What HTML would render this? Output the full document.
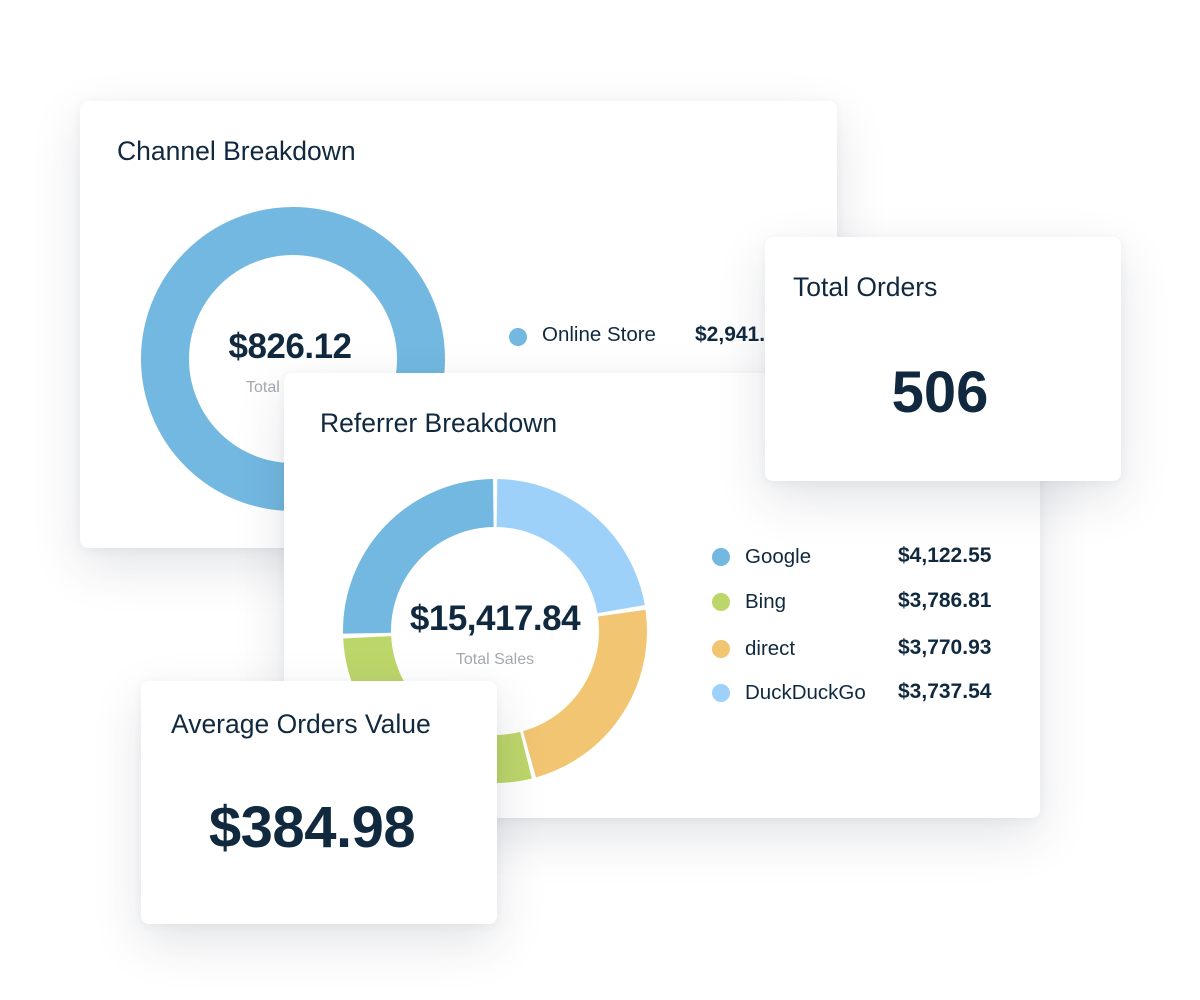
<!DOCTYPE html>
<html><head><meta charset="utf-8"><style>
body{margin:0;width:1200px;height:1000px;background:#fff;position:relative;overflow:hidden;font-family:"Liberation Sans",Arial,sans-serif;color:#11293f}
.card{position:absolute;background:#fff;border-radius:8px;box-shadow:0 18px 50px rgba(40,50,70,0.13),0 2px 10px rgba(40,50,70,0.05);overflow:hidden}
.t{position:absolute;white-space:nowrap}
.title{font-size:26.5px}
.b{font-weight:bold}
.g{color:#a4a9b0}
.dot{position:absolute;width:18px;height:18px;border-radius:50%}
.lg{font-size:20.5px}
.lv{font-size:21px;font-weight:bold}
</style></head><body>

<div class="card" style="left:80px;top:101px;width:757px;height:447px">
  <div class="t title" style="left:37px;top:35px">Channel Breakdown</div>
  <svg style="position:absolute;left:0;top:0" width="757" height="447">
    <circle cx="213" cy="258" r="128" fill="none" stroke="#72b8e0" stroke-width="48"/>
  </svg>
  <div class="t b" style="left:110px;top:226px;width:200px;text-align:center;font-size:35px;letter-spacing:-0.5px">$826.12</div>
  <div class="t g" style="left:166px;top:278px;font-size:16px">Total Sales</div>
  <div class="dot" style="left:429px;top:227px;background:#72b8e0"></div>
  <div class="t lg" style="left:462px;top:222px">Online Store</div>
  <div class="t lv" style="left:615px;top:222px">$2,941.83</div>
</div>

<div class="card" style="left:284px;top:373px;width:756px;height:445px">
  <div class="t title" style="left:36px;top:35px">Referrer Breakdown</div>
  <svg style="position:absolute;left:0;top:0" width="756" height="445">
    <g transform="rotate(-90 211 258)" fill="none" stroke-width="48">
      <circle cx="211" cy="258" r="128" stroke="#9dd1f9" stroke-dasharray="177 1000" stroke-dashoffset="-2"/>
      <circle cx="211" cy="258" r="128" stroke="#f2c572" stroke-dasharray="184 1000" stroke-dashoffset="-183"/>
      <circle cx="211" cy="258" r="128" stroke="#bdd66a" stroke-dasharray="226 1000" stroke-dashoffset="-370.6"/>
      <circle cx="211" cy="258" r="128" stroke="#72b8e0" stroke-dasharray="201.5 1000" stroke-dashoffset="-600.7"/>
    </g>
  </svg>
  <div class="t b" style="left:81px;top:226px;width:260px;text-align:center;font-size:35px;letter-spacing:-0.5px">$15,417.84</div>
  <div class="t g" style="left:81px;top:278px;width:260px;text-align:center;font-size:16px">Total Sales</div>
  <div class="dot" style="left:428px;top:175px;background:#72b8e0"></div>
  <div class="t lg" style="left:461px;top:172px">Google</div>
  <div class="t lv" style="left:614px;top:171px">$4,122.55</div>
  <div class="dot" style="left:428px;top:220px;background:#bdd66a"></div>
  <div class="t lg" style="left:461px;top:217px">Bing</div>
  <div class="t lv" style="left:614px;top:216px">$3,786.81</div>
  <div class="dot" style="left:428px;top:267px;background:#f2c572"></div>
  <div class="t lg" style="left:461px;top:264px">direct</div>
  <div class="t lv" style="left:614px;top:263px">$3,770.93</div>
  <div class="dot" style="left:428px;top:311px;background:#9dd1f9"></div>
  <div class="t lg" style="left:461px;top:308px">DuckDuckGo</div>
  <div class="t lv" style="left:614px;top:307px">$3,737.54</div>
</div>

<div class="card" style="left:765px;top:237px;width:356px;height:244px">
  <div class="t title" style="left:28px;top:35px">Total Orders</div>
  <div class="t b" style="left:0;top:122px;width:350px;text-align:center;font-size:58px">506</div>
</div>

<div class="card" style="left:141px;top:681px;width:356px;height:243px">
  <div class="t title" style="left:30px;top:28px">Average Orders Value</div>
  <div class="t b" style="left:0;top:113px;width:342px;text-align:center;font-size:58px;letter-spacing:-0.5px">$384.98</div>
</div>

</body></html>
